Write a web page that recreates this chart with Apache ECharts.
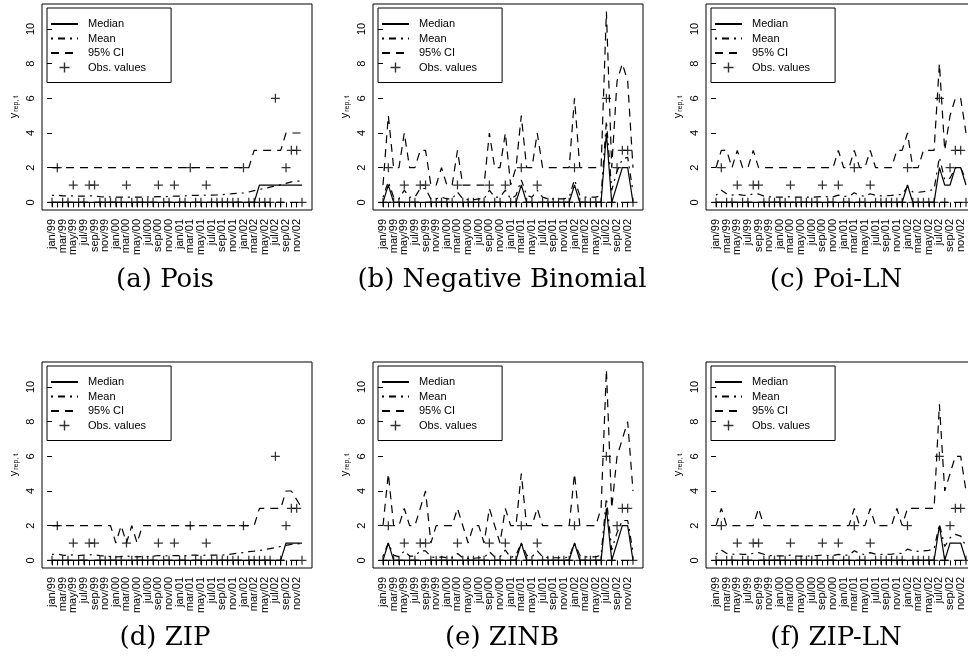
<!DOCTYPE html>
<html>
<head>
<meta charset="utf-8">
<script src="https://cdn.jsdelivr.net/npm/echarts@6/dist/echarts.min.js"></script>
<style>
  html, body { margin: 0; padding: 0; background: #fff; }
  #chart { width: 968px; height: 659px; }
</style>
</head>
<body>
<div id="chart"></div>
<script>
// labels for every second month, jan/99 .. nov/02
const tickLabels = ["jan/99", "mar/99", "may/99", "jul/99", "sep/99", "nov/99",
  "jan/00", "mar/00", "may/00", "jul/00", "sep/00", "nov/00",
  "jan/01", "mar/01", "may/01", "jul/01", "sep/01", "nov/01",
  "jan/02", "mar/02", "may/02", "jul/02", "sep/02", "nov/02"];

// observed counts, 48 months
const obs = [0,2,0,0,1,0,0,1,1,0, 0,0,0,0,1,0,0,0,0,0, 1,0,0,1,0,0,2,0,0,1, 0,0,0,0,0,0,2,0,0,0, 0,0,6,0,2,3,3,0];

// lower 95% limit (same for every model)
const ciLower = [0,0,0,0,0,0,0,0,0,0, 0,0,0,0,0,0,0,0,0,0, 0,0,0,0,0,0,0,0,0,0, 0,0,0,0,0,0,0,0,0,0, 0,0,0,0,0,0,0,0];

// (a) Pois
const poisMedian = [0,0,0,0,0,0,0,0,0,0, 0,0,0,0,0,0,0,0,0,0, 0,0,0,0,0,0,0,0,0,0, 0,0,0,0,0,0,0,0,0,1, 1,1,1,1,1,1,1,1];
const poisMean = [0.40,0.42,0.38,0.37,0.38,0.36,0.36,0.38,0.37,0.33, 0.32,0.31,0.30,0.30,0.31,0.30,0.30,0.30,0.31,0.32,
  0.33,0.33,0.34,0.36,0.36,0.37,0.40,0.40,0.40,0.42, 0.42,0.43,0.45,0.47,0.50,0.52,0.55,0.60,0.68,0.75,
  0.80,0.88,0.95,1.02,1.10,1.18,1.22,1.22];
const poisUpper = [2,2,2,2,2,2,2,2,2,2, 2,2,2,2,2,2,2,2,2,2, 2,2,2,2,2,2,2,2,2,2, 2,2,2,2,2,2,2,2,3,3, 3,3,3,3,4,4,4,4];

// (b) Negative Binomial
const nbMedian = [0,1,0,0,0,0,0,0,0,0, 0,0,0,0,0,0,0,0,0,0, 0,0,0,0,0,0,1,0,0,0, 0,0,0,0,0,0,1,0,0,0, 0,0,4,0,1,2,2,0];
const nbMean = [0.3,1.2,0.3,0.2,0.7,0.3,0.3,0.8,0.8,0.2, 0.2,0.3,0.2,0.2,0.6,0.2,0.15,0.15,0.2,0.2,
  0.7,0.3,0.3,0.7,0.2,0.4,1.3,0.4,0.3,0.7, 0.3,0.2,0.2,0.2,0.2,0.3,1.3,0.4,0.3,0.3,
  0.3,0.4,4.7,0.7,1.8,2.5,2.6,0.6];
const nbUpper = [1,5,2,2,4,2,2,3,3,1, 1,2,1,1,3,1,1,1,1,1, 4,2,2,4,1,2,5,2,2,4, 2,2,2,2,2,2,6,2,2,2, 2,2,11,2,7,8,7,2];

// (c) Poi-LN
const plnMedian = [0,0,0,0,0,0,0,0,0,0, 0,0,0,0,0,0,0,0,0,0, 0,0,0,0,0,0,0,0,0,0, 0,0,0,0,0,0,1,0,0,0, 0,0,2,1,1,2,2,1];
const plnMean = [0.40,0.70,0.50,0.42,0.45,0.42,0.40,0.50,0.48,0.36, 0.32,0.30,0.30,0.30,0.33,0.30,0.30,0.30,0.30,0.32,
  0.34,0.32,0.32,0.42,0.35,0.35,0.55,0.40,0.35,0.50, 0.40,0.38,0.38,0.40,0.45,0.45,0.90,0.60,0.58,0.62,
  0.68,0.75,2.60,1.30,1.40,2.00,2.00,1.30];
const plnUpper = [2,3,3,2,3,2,2,3,2,2, 2,2,2,2,2,2,2,2,2,2, 2,2,2,3,2,2,3,2,2,3, 2,2,2,2,3,3,4,2,2,3, 3,3,8,3,5,6,6,4];

// (d) ZIP
const zipMedian = [0,0,0,0,0,0,0,0,0,0, 0,0,0,0,0,0,0,0,0,0, 0,0,0,0,0,0,0,0,0,0, 0,0,0,0,0,0,0,0,0,0, 0,0,0,0,1,1,1,1];
const zipMean = [0.35,0.36,0.30,0.28,0.32,0.28,0.30,0.32,0.33,0.27, 0.25,0.22,0.20,0.22,0.25,0.22,0.20,0.22,0.22,0.24,
  0.28,0.27,0.26,0.28,0.27,0.27,0.30,0.30,0.28,0.30, 0.30,0.30,0.30,0.33,0.38,0.42,0.45,0.50,0.53,0.57,
  0.62,0.68,0.74,0.80,0.86,0.92,0.96,0.95];
const zipUpper = [2,2,2,2,2,2,2,2,2,2, 2,2,1,2,1,2,1,2,2,2, 2,2,2,2,2,2,2,2,2,2, 2,2,2,2,2,2,2,2,2,3, 3,3,3,3,4,4,3.5,3];

// (e) ZINB
const zinbMedian = [0,1,0,0,0,0,0,0,0,0, 0,0,0,0,0,0,0,0,0,0, 0,0,0,0,0,0,1,0,0,0, 0,0,0,0,0,0,1,0,0,0, 0,0,3,0,1,2,2,0];
const zinbMean = [0.25,1.0,0.3,0.2,0.55,0.25,0.25,0.55,0.55,0.2, 0.15,0.2,0.15,0.15,0.4,0.15,0.12,0.12,0.15,0.15,
  0.5,0.2,0.2,0.6,0.15,0.3,1.0,0.3,0.2,0.55, 0.2,0.15,0.15,0.15,0.15,0.2,1.0,0.3,0.2,0.2,
  0.2,0.3,3.6,0.6,1.6,2.3,2.3,0.5];
const zinbUpper = [2,5,2,2,3,2,2,3,4,1, 2,2,2,2,3,2,1,2,2,1, 3,2,1,3,2,2,5,2,2,3, 2,2,2,2,2,2,5,2,2,2, 2,3,11,3,6,7,8,4];

// (f) ZIP-LN
const ziplnMedian = [0,0,0,0,0,0,0,0,0,0, 0,0,0,0,0,0,0,0,0,0, 0,0,0,0,0,0,0,0,0,0, 0,0,0,0,0,0,0,0,0,0, 0,0,2,0,1,1,1,0];
const ziplnMean = [0.35,0.60,0.40,0.35,0.38,0.35,0.35,0.40,0.45,0.35, 0.28,0.26,0.26,0.26,0.30,0.26,0.25,0.25,0.26,0.28,
  0.30,0.28,0.28,0.35,0.30,0.30,0.55,0.40,0.33,0.45, 0.36,0.34,0.34,0.36,0.40,0.40,0.65,0.55,0.52,0.55,
  0.58,0.65,2.10,0.80,1.30,1.50,1.40,0.80];
const ziplnUpper = [2,3,2,2,2,2,2,2,3,2, 2,2,2,2,2,2,2,2,2,2, 2,2,2,2,2,2,3,2,2,3, 2,2,2,2,3,2,3,3,3,3, 3,3,9,4,5,6,6,4];

const panels = [
  { caption: "(a) Pois", median: poisMedian, mean: poisMean, upper: poisUpper },
  { caption: "(b) Negative Binomial", median: nbMedian, mean: nbMean, upper: nbUpper },
  { caption: "(c) Poi-LN", median: plnMedian, mean: plnMean, upper: plnUpper },
  { caption: "(d) ZIP", median: zipMedian, mean: zipMean, upper: zipUpper },
  { caption: "(e) ZINB", median: zinbMedian, mean: zinbMean, upper: zinbUpper },
  { caption: "(f) ZIP-LN", median: ziplnMedian, mean: ziplnMean, upper: ziplnUpper },
];

const colLeft = [42, 373, 706];
const rowTop = [4, 362];
const capX = [165, 502, 836];
const capTop = [267, 625];

const monthIdx = obs.map((v, i) => i);
const yTicks = [0, 2, 4, 6, 8, 10];
const plus = "path://M4.3,0H5.7V4.3H10V5.7H5.7V10H4.3V5.7H0V4.3H4.3Z";
const sans = "Liberation Sans";

const pairs = (arr) => arr.map((v, i) => [i, v]);
// line entries in the legend: hide the marker ECharts puts on the line icon
const noMarker = { opacity: 0 };

const grid = [], xAxis = [], yAxis = [], legend = [], title = [], series = [];

panels.forEach((p, k) => {
  const gl = colLeft[k % 3];
  const gt = rowTop[Math.floor(k / 3)];

  grid.push({
    left: gl, top: gt, width: 270, height: 206,
    show: true, borderColor: "#000", borderWidth: 1,
    outerBoundsMode: "none",
  });

  // a label slot on every month, text only on every second one
  xAxis.push({
    gridIndex: k, type: "value", min: -1.88, max: 48.88,
    axisLine: { show: false },
    splitLine: { show: false },
    axisTick: { show: true, length: 5, customValues: monthIdx, lineStyle: { color: "#000" } },
    axisLabel: {
      customValues: monthIdx, rotate: 90, margin: 9,
      showMinLabel: true, showMaxLabel: false, hideOverlap: false,
      fontFamily: sans, fontSize: 11, color: "#000",
      formatter: (v) => (v % 2 === 0 ? tickLabels[v / 2] : ""),
    },
  });

  yAxis.push({
    gridIndex: k, type: "value", min: -0.44, max: 11.44,
    axisLine: { show: false },
    splitLine: { show: false },
    axisTick: { show: true, length: 5, customValues: yTicks, lineStyle: { color: "#000" } },
    axisLabel: {
      customValues: yTicks, rotate: 90, margin: 6,
      showMinLabel: true, showMaxLabel: true,
      fontFamily: sans, fontSize: 11, color: "#000",
    },
    name: "{y|y}{s|rep, t}",
    nameLocation: "middle", nameRotate: 90, nameGap: 22,
    nameTextStyle: {
      rich: {
        y: { fontFamily: sans, fontSize: 11, color: "#000" },
        s: { fontFamily: sans, fontSize: 7, color: "#000", padding: [5, 0, 0, 1] },
      },
    },
  });

  legend.push({
    left: gl + 5, top: gt + 4, orient: "vertical",
    data: [
      { name: "Median", itemStyle: noMarker },
      { name: "Mean", itemStyle: noMarker },
      { name: "95% CI", itemStyle: noMarker },
      { name: "Obs. values" },
    ],
    itemWidth: 27, itemHeight: 10, itemGap: 0.5,
    padding: [9, 25, 8, 3],
    borderColor: "#000", borderWidth: 1,
    selectedMode: false,
    textStyle: { fontFamily: sans, fontSize: 11, lineHeight: 14, color: "#000", padding: [0, 0, 0, 5] },
  });

  title.push({
    text: p.caption, left: capX[k % 3], top: capTop[Math.floor(k / 3)],
    textAlign: "center", padding: 0,
    textStyle: { fontFamily: "DejaVu Serif", fontSize: 26, fontWeight: "normal", color: "#000" },
  });

  const base = { type: "line", xAxisIndex: k, yAxisIndex: k, symbol: "none", silent: true,
    itemStyle: { color: "#000" } };
  series.push({ ...base, name: "Median", data: pairs(p.median),
    lineStyle: { color: "#000", width: 1.2, type: "solid" } });
  series.push({ ...base, name: "Mean", data: pairs(p.mean),
    lineStyle: { color: "#000", width: 1.2, type: [2, 5, 7, 5] } });
  series.push({ ...base, name: "95% CI", data: pairs(p.upper),
    lineStyle: { color: "#000", width: 1.2, type: [8, 6] } });
  series.push({ ...base, name: "95% CI", data: pairs(ciLower),
    lineStyle: { color: "#000", width: 1.2, type: [8, 6] } });
  series.push({
    type: "scatter", name: "Obs. values", xAxisIndex: k, yAxisIndex: k, silent: true,
    data: pairs(obs), symbol: plus, symbolSize: 9, itemStyle: { color: "#000" }, z: 3,
  });
});

const chart = echarts.init(document.getElementById("chart"));
chart.setOption({
  animation: false,
  backgroundColor: "#fff",
  grid, xAxis, yAxis, legend, title, series,
});
</script>
</body>
</html>
